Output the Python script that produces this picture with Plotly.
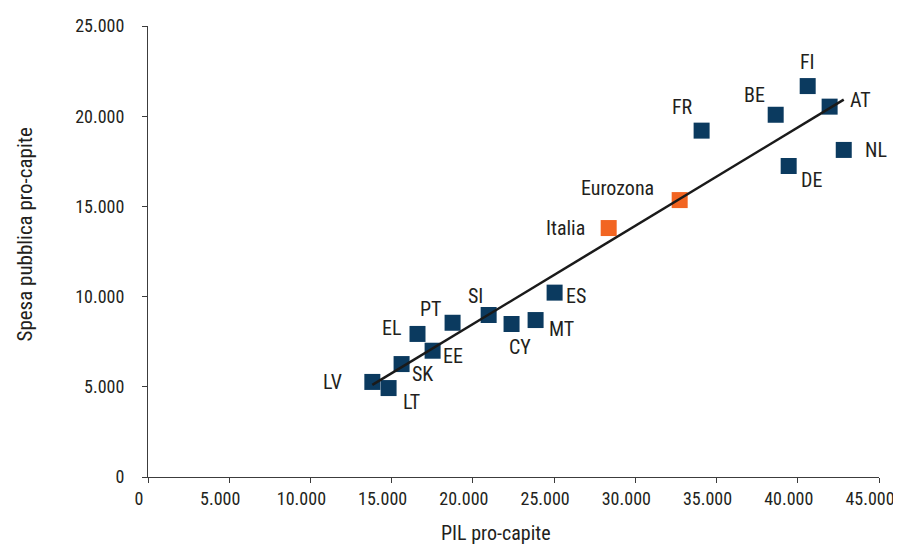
import plotly.graph_objects as go
import numpy as np

# Paesi (blu)
countries = ["LV", "LT", "SK", "EL", "EE", "PT", "SI", "CY", "MT", "ES",
             "FR", "BE", "FI", "AT", "NL", "DE"]
pil = [13810, 14810, 15610, 16590, 17520, 18750, 20970, 22380, 23860, 25030,
       34080, 38640, 40610, 41960, 42830, 39440]
spesa = [5270, 4930, 6260, 7930, 7000, 8550, 8980, 8480, 8700, 10220,
         19200, 20080, 21670, 20530, 18130, 17240]

# Italia ed Eurozona (arancione)
highlight = ["Italia", "Eurozona"]
pil_hl = [28360, 32730]
spesa_hl = [13800, 15350]

x_ticks = [0, 5000, 10000, 15000, 20000, 25000, 30000, 35000, 40000, 45000]
y_ticks = [0, 5000, 10000, 15000, 20000, 25000]

navy = "#0b3a5f"
orange = "#f26522"
text_col = "#231f20"
font_family = "Roboto Condensed, Liberation Sans Narrow, sans-serif"

# spostamento delle etichette rispetto al marker (px, y verso l'alto)
label_shift = {
    "LV": (-40, 0), "LT": (23, -14), "SK": (21, -10), "EL": (-26, 6),
    "EE": (20, -5), "PT": (-22, 14), "SI": (-13, 19), "CY": (8, -23),
    "MT": (26, -9), "ES": (21, -3), "FR": (-19, 24), "BE": (-21, 20),
    "FI": (0, 24), "AT": (31, 7), "NL": (32, 0), "DE": (23, -14),
    "Italia": (-43, 0), "Eurozona": (-62, 12),
}


def fmt(v):
    return "0" if v == 0 else f"{v:,}".replace(",", ".")


fig = go.Figure()

fig.add_trace(go.Scatter(
    x=pil, y=spesa, mode="markers",
    marker=dict(symbol="square", size=16, color=navy),
    showlegend=False, text=countries, hoverinfo="text",
))

fig.add_trace(go.Scatter(
    x=pil_hl, y=spesa_hl, mode="markers",
    marker=dict(symbol="square", size=16, color=orange),
    showlegend=False, text=highlight, hoverinfo="text",
))

# linea di tendenza (regressione lineare)
all_x = np.array(pil + pil_hl)
all_y = np.array(spesa + spesa_hl)
slope, intercept = np.polyfit(all_x, all_y, 1)
tx = np.array([all_x.min(), all_x.max()])
fig.add_trace(go.Scatter(
    x=tx, y=slope * tx + intercept, mode="lines",
    line=dict(color="#1a1a1a", width=2.5),
    showlegend=False, hoverinfo="skip",
))

for name, xv, yv in zip(countries + highlight, pil + pil_hl, spesa + spesa_hl):
    dx, dy = label_shift[name]
    fig.add_annotation(
        x=xv, y=yv, text=name, showarrow=False, xshift=dx, yshift=dy,
        font=dict(size=20, color=text_col, family=font_family),
    )

# titoli degli assi
fig.add_annotation(
    text="PIL pro-capite", xref="paper", yref="paper", x=0.5, y=0,
    xanchor="center", yanchor="middle", xshift=-18, yshift=-56,
    showarrow=False, font=dict(size=20, color=text_col, family=font_family),
)
fig.add_annotation(
    text="Spesa pubblica pro-capite", xref="paper", yref="paper", x=0, y=0.5,
    xanchor="center", yanchor="middle", xshift=-124, yshift=17, textangle=-90,
    showarrow=False, font=dict(size=21, color=text_col, family=font_family),
)

axis_common = dict(
    showgrid=False, zeroline=False, showline=True, automargin=False,
    linecolor="#3c3c3c", linewidth=1,
    ticks="outside", ticklen=5, tickcolor="#3c3c3c",
    ticklabeloverflow="allow", tickangle=0,
    tickfont=dict(size=18, color=text_col, family=font_family),
)

fig.update_xaxes(
    range=[0, 45000], tickvals=x_ticks, ticktext=[fmt(v) for v in x_ticks],
    ticklabelshift=-9,
    **axis_common,
)
fig.update_yaxes(
    range=[0, 25000], tickvals=y_ticks, ticktext=[fmt(v) for v in y_ticks],
    ticklabelstandoff=14,
    **axis_common,
)

# la pagina ha un margine di 8px: figura 893x539 per riempire la finestra
fig.update_layout(
    width=893, height=539,
    margin=dict(l=140, r=22, t=18, b=70),
    plot_bgcolor="white", paper_bgcolor="white",
)

fig.write_html("out.html")
